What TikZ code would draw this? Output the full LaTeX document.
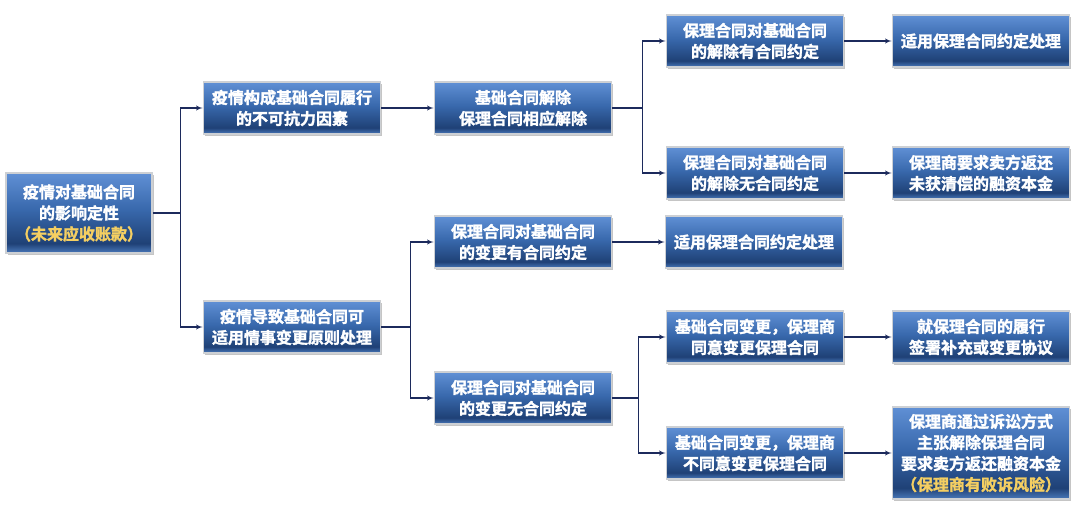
\documentclass[tikz,border=0pt]{standalone}
\usepackage{fontspec}
\setmainfont{Noto Sans CJK SC}[BoldFont={Noto Sans CJK SC Bold}, BoldFeatures={FakeBold=1.8}]
\usetikzlibrary{positioning,shadows,arrows}
\definecolor{boxtop}{HTML}{6090D5}
\definecolor{boxmid}{HTML}{3868AC}
\definecolor{boxdark}{HTML}{1F4176}
\definecolor{boxlow}{HTML}{4A79BB}
\definecolor{boxrim}{HTML}{CDD0D4}
\definecolor{linecol}{HTML}{1C2A5C}
\definecolor{notecol}{HTML}{F5CF62}
\pgfdeclareverticalshading{boxshade}{100bp}{color(0bp)=(boxlow); color(25bp)=(boxlow); color(31bp)=(boxdark); color(52bp)=(boxmid); color(75bp)=(boxtop); color(100bp)=(boxtop)}
\tikzstyle{block} = [rectangle, draw=boxrim, line width=1.6pt, shading=boxshade,
    drop shadow={shadow xshift=1.5pt, shadow yshift=-2pt, fill=black!45},
    text=white, font=\bfseries\fontsize{16}{21}\selectfont, align=center,
    minimum width=177pt, minimum height=52pt, inner sep=2pt]
\tikzstyle{line} = [draw, linecol, line width=1.3pt, -latex']
\newcommand{\note}[1]{\textcolor{notecol}{#1}}

\begin{document}
\begin{tikzpicture}[x=1pt, y=-1pt, node distance=231pt]
    \useasboundingbox (0,0) rectangle (1080,506);
    % Place nodes
    \node [block, minimum width=146pt, minimum height=80pt] (root) at (79,213) {疫情对基础合同\\的影响定性\\\note{（未来应收账款）}};
    \node [block] (force) at (292,108) {疫情构成基础合同履行\\的不可抗力因素};
    \node [block, right of=force] (cancel) {基础合同解除\\保理合同相应解除};
    \node [block] (change) at (292,327) {疫情导致基础合同可\\适用情事变更原则处理};
    \node [block] (agreed) at (523,242) {保理合同对基础合同\\的变更有合同约定};
    \node [block, right of=agreed] (apply) {适用保理合同约定处理};
    \node [block] (noagree) at (523,398) {保理合同对基础合同\\的变更无合同约定};
    \node [block] (cagree) at (755,41) {保理合同对基础合同\\的解除有合同约定};
    \node [block, right of=cagree, node distance=226pt] (capply) {适用保理合同约定处理};
    \node [block] (cnone) at (755,173) {保理合同对基础合同\\的解除无合同约定};
    \node [block, right of=cnone, node distance=226pt] (refund) {保理商要求卖方返还\\未获清偿的融资本金};
    \node [block] (consent) at (755,337) {基础合同变更，保理商\\同意变更保理合同};
    \node [block, right of=consent, node distance=226pt] (supplement) {就保理合同的履行\\签署补充或变更协议};
    \node [block] (refuse) at (755,453) {基础合同变更，保理商\\不同意变更保理合同};
    \node [block, right of=refuse, node distance=226pt, minimum height=92pt] (sue) {保理商通过诉讼方式\\主张解除保理合同\\要求卖方返还融资本金\\\note{（保理商有败诉风险）}};
    % Draw edges
    \path [line] (root.east) -- ++(28,0) |- (force);
    \path [line] (root.east) -- ++(28,0) |- (change);
    \path [line] (force) -- (cancel);
    \path [line] (cancel.east) -- ++(30,0) |- (cagree);
    \path [line] (cancel.east) -- ++(30,0) |- (cnone);
    \path [line] (change.east) -- ++(29,0) |- (agreed);
    \path [line] (change.east) -- ++(29,0) |- (noagree);
    \path [line] (agreed) -- (apply);
    \path [line] (noagree.east) -- ++(26,0) |- (consent);
    \path [line] (noagree.east) -- ++(26,0) |- (refuse);
    \path [line] (cagree) -- (capply);
    \path [line] (cnone) -- (refund);
    \path [line] (consent) -- (supplement);
    \path [line] (refuse) -- (sue);
\end{tikzpicture}
\end{document}
